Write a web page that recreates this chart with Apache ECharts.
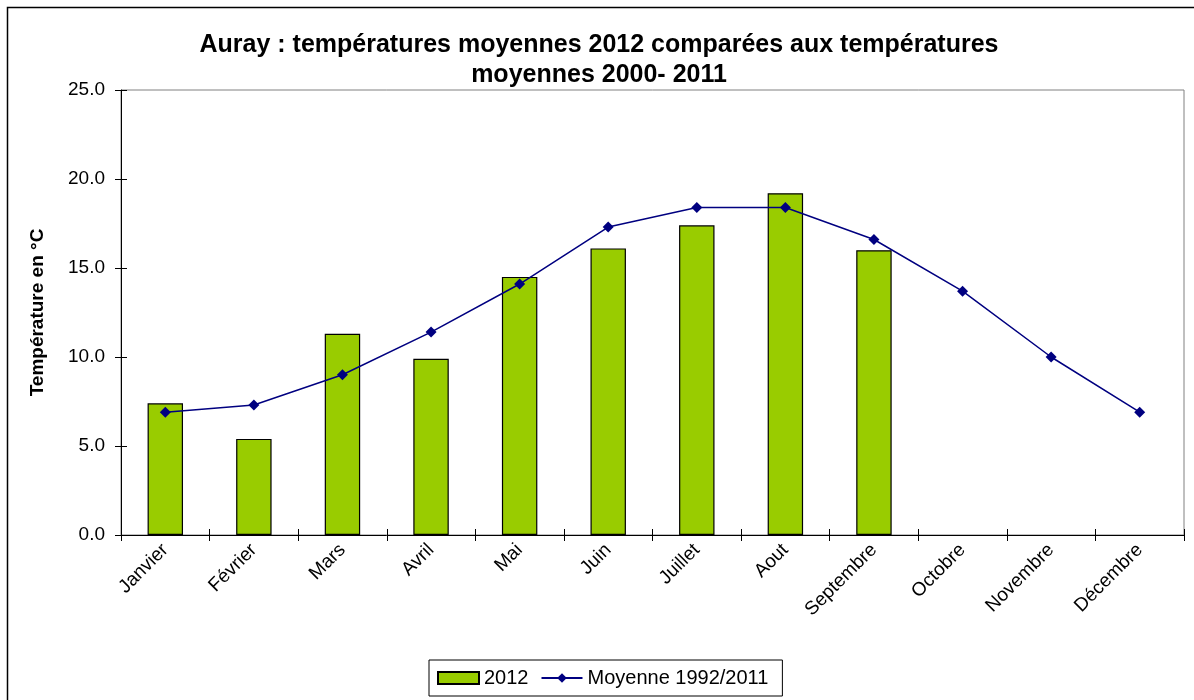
<!DOCTYPE html>
<html>
<head>
<meta charset="utf-8">
<script src="https://cdn.jsdelivr.net/npm/echarts@6/dist/echarts.min.js"></script>
<style>
  html, body { margin: 0; padding: 0; background: #fff; }
  #chart { width: 1194px; height: 700px; }
</style>
</head>
<body>
<div id="chart"></div>
<script>
// mois
const months = ['Janvier', 'Février', 'Mars', 'Avril', 'Mai', 'Juin', 'Juillet', 'Aout', 'Septembre', 'Octobre', 'Novembre', 'Décembre'];
// températures 2012 (pas de données après septembre)
const temp2012 = [7.4, 5.4, 11.3, 9.9, 14.5, 16.1, 17.4, 19.2, 16.0, null, null, null];
// moyenne 1992/2011
const moyenne = [6.9, 7.3, 9.0, 11.4, 14.1, 17.3, 18.4, 18.4, 16.6, 13.7, 10.0, 6.9];
const yTicks = { min: 0, max: 25, interval: 5 };

const font = 'Arial, "Liberation Sans", sans-serif';
const chart = echarts.init(document.getElementById('chart'));

chart.setOption({
    animation: false,
    backgroundColor: '#fff',
    textStyle: { fontFamily: font, color: '#000' },
    graphic: [{
        type: 'rect', z: -10,
        shape: { x: 7.5, y: 7.5, width: 1200, height: 700 },
        style: { fill: 'none', stroke: '#000', lineWidth: 1.5 }
    }],
    title: {
        text: 'Auray : températures moyennes 2012 comparées aux températures\nmoyennes 2000- 2011',
        left: 594, textAlign: 'center', top: 25,
        textStyle: { fontFamily: font, fontSize: 25, fontWeight: 'bold', lineHeight: 30, color: '#000' }
    },
    legend: {
        left: 429, top: 660,
        padding: [8, 14, 8, 8],
        borderColor: '#000', borderWidth: 1,
        itemWidth: 41, itemHeight: 12, itemGap: 12,
        textStyle: { fontFamily: font, fontSize: 20, color: '#000' },
        data: [{ name: '2012', icon: 'rect' }, { name: 'Moyenne 1992/2011' }]
    },
    grid: {
        left: 121, right: 10, top: 90, bottom: 165,
        show: true, borderColor: '#808080', borderWidth: 1
    },
    xAxis: [{
        type: 'category', data: months,
        axisLine: { lineStyle: { color: '#000', width: 1 } },
        axisTick: { show: true, length: 6, lineStyle: { color: '#000' } },
        axisLabel: { rotate: 45, fontSize: 19, color: '#000', margin: 12, fontFamily: font }
    }, {
        type: 'category', data: months, position: 'bottom',
        axisLine: { show: false },
        axisTick: { show: true, inside: true, length: 6, lineStyle: { color: '#000' } },
        axisLabel: { show: false }
    }],
    yAxis: [{
        type: 'value', min: yTicks.min, max: yTicks.max, interval: yTicks.interval,
        name: 'Température en °C', nameLocation: 'middle', nameGap: 74, nameRotate: 90,
        nameTextStyle: { fontFamily: font, fontSize: 19, fontWeight: 'bold', color: '#000' },
        axisLine: { show: true, lineStyle: { color: '#000', width: 1 } },
        axisTick: { show: true, length: 6, lineStyle: { color: '#000' } },
        axisLabel: { fontSize: 19, color: '#000', margin: 16, fontFamily: font, formatter: v => v.toFixed(1) },
        splitLine: { show: false }
    }, {
        type: 'value', min: yTicks.min, max: yTicks.max, interval: yTicks.interval, position: 'left',
        axisLine: { show: false },
        axisTick: { show: true, inside: true, length: 6, lineStyle: { color: '#000' } },
        axisLabel: { show: false },
        splitLine: { show: false }
    }],
    series: [{
        name: '2012', type: 'bar', data: temp2012,
        barWidth: '40%',
        itemStyle: { color: '#99CC00', borderColor: '#000', borderWidth: 1.2 }
    }, {
        name: 'Moyenne 1992/2011', type: 'line', data: moyenne,
        symbol: 'diamond', symbolSize: 11,
        lineStyle: { color: '#000080', width: 1.5 },
        itemStyle: { color: '#000080' }
    }]
});
</script>
</body>
</html>
